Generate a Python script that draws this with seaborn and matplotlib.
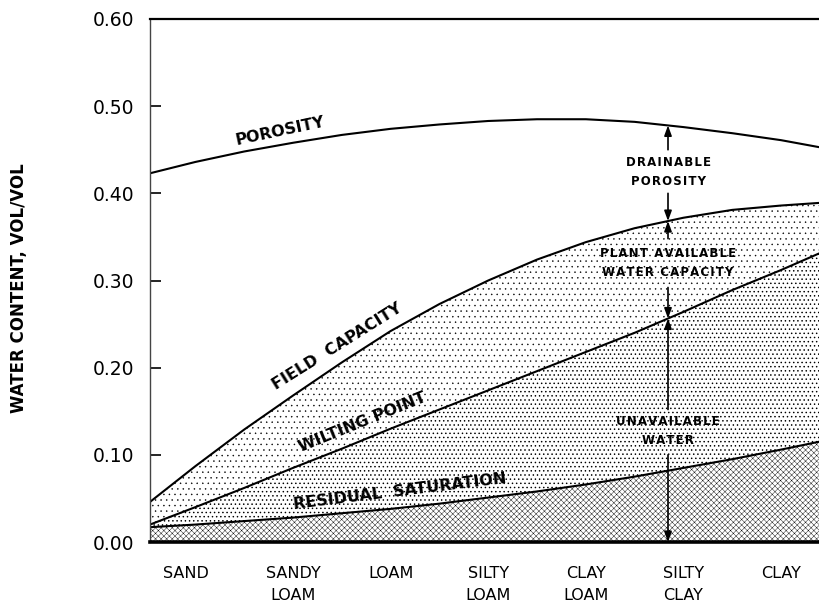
import numpy as np
import pandas as pd
import matplotlib
matplotlib.use("Agg")
from matplotlib import pyplot as plt
import matplotlib.transforms as mtrans
import seaborn as sns

# soil texture classes (x axis)
textures = ["SAND", "SANDY\nLOAM", "LOAM", "SILTY\nLOAM", "CLAY\nLOAM", "SILTY\nCLAY", "CLAY"]

pos = [-0.465, 0, 0.5, 1, 1.5, 2, 2.5, 3, 3.5, 4, 4.5, 5, 5.5, 6, 6.389]

porosity = [0.423, 0.436, 0.448, 0.458, 0.467, 0.474, 0.479, 0.483, 0.485, 0.485,
            0.482, 0.476, 0.469, 0.461, 0.453]
field_capacity = [0.046, 0.087, 0.129, 0.168, 0.206, 0.242, 0.273, 0.300, 0.324, 0.344,
                  0.360, 0.372, 0.381, 0.386, 0.389]
wilting_point = [0.020, 0.040, 0.062, 0.085, 0.107, 0.130, 0.152, 0.174, 0.196, 0.218,
                 0.240, 0.264, 0.289, 0.312, 0.331]
residual_sat = [0.017, 0.020, 0.024, 0.028, 0.033, 0.038, 0.044, 0.051, 0.058, 0.066,
                0.075, 0.085, 0.095, 0.106, 0.115]

yticks = [0.0, 0.1, 0.2, 0.3, 0.4, 0.5, 0.6]

curves = {"porosity": porosity, "field capacity": field_capacity,
          "wilting point": wilting_point, "residual": residual_sat}
df = pd.concat([pd.DataFrame({"pos": pos, "value": v, "curve": k}) for k, v in curves.items()])

sns.set_theme(style="white")
plt.rcParams["font.family"] = ["DejaVu Sans"]
plt.rcParams.update({"text.color": "black", "axes.labelcolor": "black",
                     "xtick.color": "black", "ytick.color": "black"})

fig = plt.figure(figsize=(8.19, 6.07), dpi=100)
ax = fig.add_axes([150 / 819, 65 / 607, 669 / 819, 523 / 607])

# shaded zones
with plt.rc_context({"hatch.linewidth": 0.3}):
    ax.fill_between(pos, 0, residual_sat, facecolor="white", edgecolor="black",
                    hatch="xxxxxx", linewidth=0, zorder=1)
with plt.rc_context({"hatch.linewidth": 0.55}):
    ax.fill_between(pos, residual_sat, wilting_point, facecolor="white", edgecolor="black",
                    hatch="....", linewidth=0, zorder=1)
with plt.rc_context({"hatch.linewidth": 0.3}):
    ax.fill_between(pos, wilting_point, field_capacity, facecolor="white", edgecolor="black",
                    hatch="...", linewidth=0, zorder=1)

sns.lineplot(data=df, x="pos", y="value", hue="curve",
             palette={k: "black" for k in curves}, linewidth=1.5,
             legend=False, sort=False, ax=ax, zorder=2)

ax.set_xlim(pos[0], pos[-1])
ax.set_ylim(0, 0.6)
ax.set_xticks(range(len(textures)))
ax.set_xticklabels(textures, linespacing=1.6)
ax.set_yticks(yticks)
ax.set_yticklabels([f"{t:.2f}" for t in yticks])
ax.tick_params(axis="x", length=0, pad=17, labelsize=11.5)
ax.tick_params(axis="y", direction="in", length=8, width=1.2, pad=11, labelsize=13.5,
               left=True)
first = ax.get_xticklabels()[0]
first.set_transform(first.get_transform() + mtrans.ScaledTranslation(-0.09, 0, fig.dpi_scale_trans))
ax.set_xlabel("")
ax.set_ylabel("WATER CONTENT, VOL/VOL", fontsize=12, fontweight="bold")
ax.yaxis.set_label_coords(-0.182, 0.486)

ax.spines["right"].set_visible(False)
ax.spines["top"].set_linewidth(1.6)
ax.spines["top"].set_color("black")
ax.spines["left"].set_linewidth(1.0)
ax.spines["left"].set_color("#444444")
ax.spines["bottom"].set_linewidth(2.6)
ax.spines["bottom"].set_color("black")

# curve labels
lab = dict(fontsize=11.5, fontweight="bold", ha="center", va="center",
           rotation_mode="anchor", zorder=3)
ax.text(0.866, 0.471, "POROSITY", rotation=12, **lab)
ax.text(1.45, 0.224, "FIELD  CAPACITY", rotation=32, **lab)
ax.text(1.71, 0.137, "WILTING POINT", rotation=22, **lab)
ax.text(2.10, 0.058, "RESIDUAL  SATURATION", rotation=7, **lab)

# vertical arrows at silty clay
arrow_x = 4.842
p_y = np.interp(arrow_x, pos, porosity)
fc_y = np.interp(arrow_x, pos, field_capacity)
wp_y = np.interp(arrow_x, pos, wilting_point)


def arrow(y_from, y_to):
    ax.annotate("", xy=(arrow_x, y_to), xytext=(arrow_x, y_from), zorder=3,
                arrowprops=dict(arrowstyle="-|>,head_length=0.6,head_width=0.22",
                                color="black", lw=1.2, shrinkA=0, shrinkB=0,
                                mutation_scale=10))


arrow(0.450, p_y)
arrow(0.400, fc_y)
arrow(0.348, fc_y)
arrow(0.292, wp_y)
arrow(0.152, wp_y)
arrow(0.100, 0.0)


def spaced(s):
    return "\n".join("\u200a".join(line) for line in s.split("\n"))


zl = dict(fontsize=8.5, fontweight="bold", ha="center", va="center",
          linespacing=1.6, zorder=3)
ax.text(arrow_x, 0.424, spaced("DRAINABLE\nPOROSITY"), **zl)
ax.text(arrow_x, 0.320, spaced("PLANT AVAILABLE\nWATER CAPACITY"), **zl)
ax.text(arrow_x, 0.127, spaced("UNAVAILABLE\nWATER"), **zl)

fig.savefig("out.png", dpi=100)
